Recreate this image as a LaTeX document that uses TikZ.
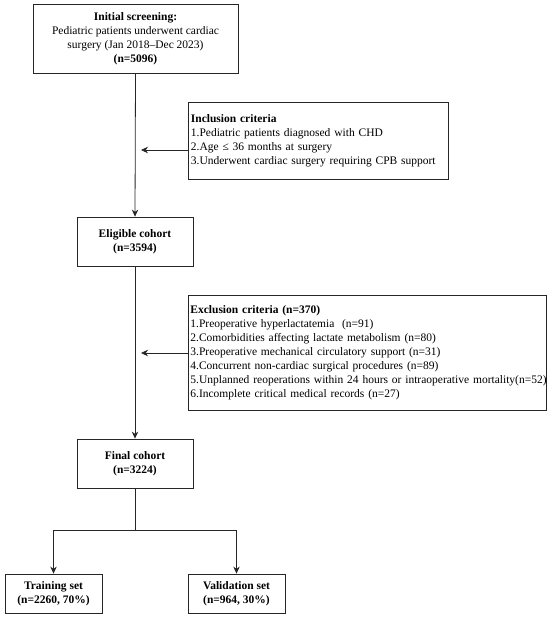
\documentclass[tikz,border=0pt]{standalone}
\usepackage{fontspec}
\setmainfont{Liberation Serif}
\usetikzlibrary{arrows.meta}
\begin{document}
\begin{tikzpicture}[x=1pt,y=-1pt,
  box/.style={draw=black!85,line width=0.8pt,rectangle,inner sep=2pt,
    font=\fontsize{11.5}{14}\selectfont},
  cbox/.style={box,align=center},
  lbox/.style={box,align=left,anchor=west},
  conn/.style={draw=black!85,line width=0.8pt},
  arr/.style={conn,-{Stealth[length=7pt,width=6.5pt]}}]
\useasboundingbox (0,0) rectangle (550,618);
\node[cbox,minimum width=205pt,minimum height=69pt] (init) at (135.5,38.5)
  {\textbf{Initial screening:}\\Pediatric patients underwent cardiac\\surgery (Jan 2018–Dec 2023)\\\textbf{(n=5096)}};
\node[lbox,minimum width=260pt,minimum height=77pt,text width=255pt] (incl) at (188,140.5)
  {\textbf{Inclusion criteria}\\1.Pediatric patients diagnosed with CHD\\2.Age ≤ 36 months at surgery\\3.Underwent cardiac surgery requiring CPB support};
\node[cbox,minimum width=116pt,minimum height=49pt] (elig) at (135,241.5)
  {\textbf{Eligible cohort}\\\textbf{(n=3594)}};
\node[lbox,minimum width=358pt,minimum height=115pt,text width=354pt] (excl) at (188,352.5)
  {\textbf{Exclusion criteria (n=370)}\\1.Preoperative hyperlactatemia\ \ (n=91)\\2.Comorbidities affecting lactate metabolism (n=80)\\3.Preoperative mechanical circulatory support (n=31)\\4.Concurrent non-cardiac surgical procedures (n=89)\\\mbox{5.Unplanned reoperations within 24 hours or intraoperative mortality(n=52)}\\6.Incomplete critical medical records (n=27)};
\node[cbox,minimum width=116pt,minimum height=49pt] (final) at (135,463.5)
  {\textbf{Final cohort}\\\textbf{(n=3224)}};
\node[cbox,minimum width=97pt,minimum height=39pt] (train) at (53.5,593.5)
  {\textbf{Training set}\\\textbf{(n=2260, 70\%)}};
\node[cbox,minimum width=97pt,minimum height=39pt] (valid) at (236.5,593.5)
  {\textbf{Validation set}\\\textbf{(n=964, 30\%)}};
\coordinate (ia) at (141,150);
\coordinate (ea) at (141,353);
\coordinate (split) at (135,530);
\draw[arr] (init.south) -- (elig.north);
\draw[arr] (elig.south) -- (final.north);
\draw[arr] (incl.west |- ia) -- (ia);
\draw[arr] (excl.west |- ea) -- (ea);
\draw[conn] (final.south) -- (split);
\draw[arr] (split) -| (train.north);
\draw[arr] (split) -| (valid.north);
\end{tikzpicture}
\end{document}
